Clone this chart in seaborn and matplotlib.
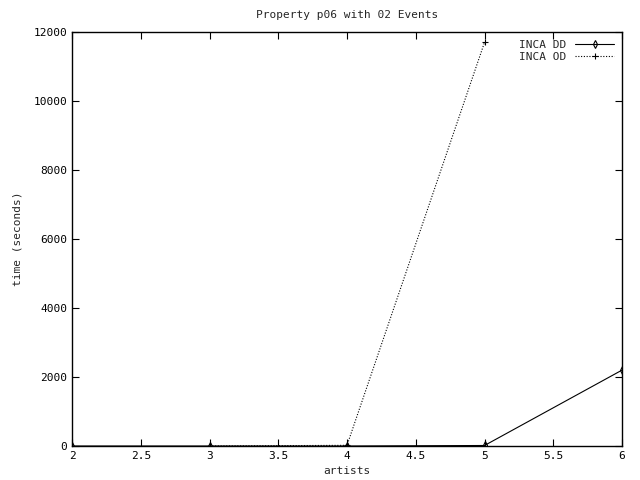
import matplotlib
matplotlib.use("Agg")
import matplotlib.pyplot as plt
import pandas as pd
import seaborn as sns

# data
dd_artists = [2, 3, 4, 5, 6]
dd_time = [0, 0, 0, 15, 2200]
od_artists = [3, 4, 5]
od_time = [0, 20, 11700]

sns.set_theme(style="ticks")
plt.rcParams["font.family"] = ["DejaVu Sans Mono"]
plt.rcParams["font.size"] = 8

fig = plt.figure(figsize=(6.4, 4.8), dpi=100)
ax = fig.add_axes([0.1125, 0.0708, 0.8594, 0.8625])

sns.lineplot(x=dd_artists, y=dd_time, color="black", linewidth=0.8,
             marker="d", markersize=4, markerfacecolor="none",
             markeredgecolor="black", markeredgewidth=0.8,
             label="INCA DD", ax=ax)
sns.lineplot(x=od_artists, y=od_time, color="black", linewidth=0.8,
             linestyle=(0, (1, 1.5)), marker="+", markersize=5,
             markeredgecolor="black", markeredgewidth=0.8,
             label="INCA OD", ax=ax)

ax.set_xlim(2, 6)
ax.set_ylim(0, 12000)
ax.set_xticks([2, 2.5, 3, 3.5, 4, 4.5, 5, 5.5, 6])
ax.set_xticklabels(["2", "2.5", "3", "3.5", "4", "4.5", "5", "5.5", "6"])
ax.set_yticks(range(0, 12001, 2000))
ax.tick_params(direction="in", top=True, right=True, length=5, width=0.8,
               labelsize=8, colors="black")
for s in ax.spines.values():
    s.set_linewidth(1)
    s.set_color("black")

ax.set_title("Property p06 with 02 Events", fontsize=8, pad=10)
ax.set_xlabel("artists", fontsize=8, labelpad=4)
ax.set_ylabel("time (seconds)", fontsize=8, labelpad=8)

handles, labels = ax.get_legend_handles_labels()
ax.legend(handles, labels, loc="upper right", frameon=False, markerfirst=False,
          fontsize=8, handlelength=3.5, borderaxespad=0.3, labelspacing=0.2)

fig.savefig("out.png", dpi=100)
